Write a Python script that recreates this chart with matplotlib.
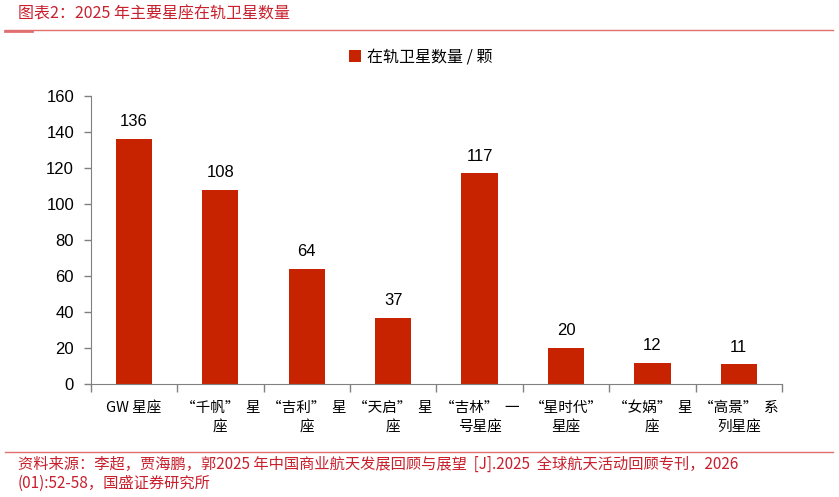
import matplotlib
matplotlib.use("Agg")
import matplotlib.pyplot as plt
from matplotlib.lines import Line2D
from matplotlib.patches import Patch

plt.rcParams['font.family'] = ['Noto Sans CJK SC', 'DejaVu Sans']

categories = ["GW 星座", "“千帆”  星\n座", "“吉利”  星\n座", "“天启”  星\n座",
              "“吉林”  一\n号星座", "“星时代”\n星座", "“女娲”  星\n座", "“高景”  系\n列星座"]
values = [136, 108, 64, 37, 117, 20, 12, 11]
series_name = "在轨卫星数量 / 颗"
yticks = [0, 20, 40, 60, 80, 100, 120, 140, 160]
title = "图表2：2025 年主要星座在轨卫星数量"
source1 = "资料来源：李超，贾海鹏，郭2025 年中国商业航天发展回顾与展望  [J].2025  全球航天活动回顾专刊，2026"
source2 = "(01):52-58，国盛证券研究所"

W, H = 839, 497
fig = plt.figure(figsize=(W / 100, H / 100), dpi=100)
ax = fig.add_axes([90.7 / W, 1 - 384.3 / H, (782 - 90.7) / W, (384.3 - 96) / H])

bar_color = "#C82300"
x = list(range(len(categories)))
bars = ax.bar(x, values, width=0.42, color=bar_color, zorder=2)
for xi, v in zip(x, values):
    ax.text(xi, v + 5.5, str(v), ha='center', va='bottom', fontsize=12,
            family=['Liberation Sans', 'DejaVu Sans'], color='#000000')

ax.set_xlim(-0.5, len(categories) - 0.5)
ax.set_ylim(0, 160)
ax.set_yticks(yticks)
ax.set_yticklabels([str(t) for t in yticks], fontsize=12, family=['Liberation Sans', 'DejaVu Sans'])
ax.set_xticks([i - 0.5 for i in range(len(categories) + 1)])
ax.set_xticklabels([])
ax.tick_params(axis='x', length=6, color='#808080', width=1)
ax.tick_params(axis='y', length=5, color='#808080', width=1, pad=7)
for i, c in enumerate(categories):
    ax.text(i, -9, c, ha='center', va='top', fontsize=10.5, linespacing=1.5,
            transform=ax.transData)
for s in ['top', 'right']:
    ax.spines[s].set_visible(False)
ax.spines['left'].set_color('#808080')
ax.spines['bottom'].set_color('#808080')

leg = fig.legend(handles=[Patch(facecolor=bar_color, edgecolor='none')], labels=[series_name],
                 loc='center', bbox_to_anchor=(421 / W, 1 - 57 / H), frameon=False,
                 fontsize=11.5, handlelength=0.7, handleheight=0.7, handletextpad=0.4)

# title
red = "#C8202D"
fig.text(18 / W, 1 - 14 / H, title, color=red, fontsize=11.5, va='center', ha='left')
fig.add_artist(Line2D([5 / W, 833 / W], [1 - 30 / H, 1 - 30 / H], color="#E07070", lw=1))
fig.add_artist(Line2D([5 / W, 32 / W], [1 - 30.5 / H, 1 - 30.5 / H], color="#E07070", lw=2))

# footer
fig.add_artist(Line2D([5 / W, 833 / W], [1 - 452 / H, 1 - 452 / H], color="#E07070", lw=1))
fig.text(18 / W, 1 - 464 / H, source1, color=red, fontsize=11, va='center', ha='left')
fig.text(18 / W, 1 - 483 / H, source2, color=red, fontsize=11, va='center', ha='left')

fig.savefig("out.png", dpi=100)
